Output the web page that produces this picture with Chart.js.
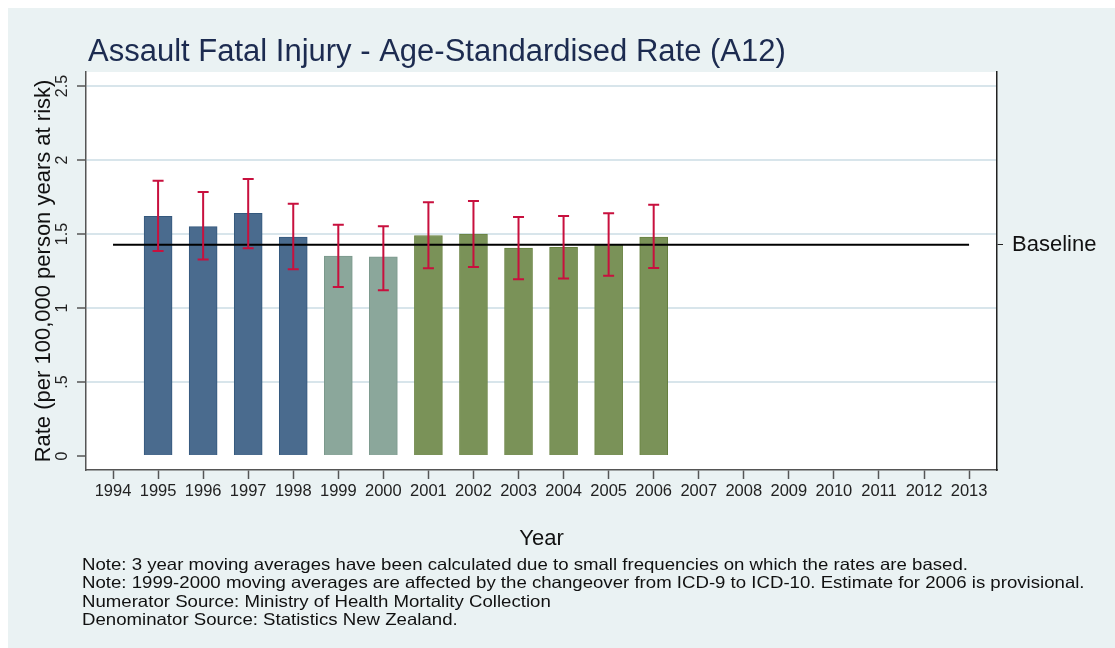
<!DOCTYPE html>
<html>
<head>
<meta charset="utf-8">
<script src="https://cdn.jsdelivr.net/npm/chart.js@4.4.1/dist/chart.umd.min.js"></script>
<style>
  html, body { margin: 0; padding: 0; background: #fff; }
  #chart { display: block; }
</style>
</head>
<body>
<canvas id="chart" width="1115" height="648"></canvas>
<script>
// values
const years = [1995, 1996, 1997, 1998, 1999, 2000, 2001, 2002, 2003, 2004, 2005, 2006];
const rates = [1.62, 1.55, 1.64, 1.48, 1.35, 1.345, 1.49, 1.50, 1.405, 1.41, 1.43, 1.48];
const lower = [1.385, 1.327, 1.403, 1.261, 1.142, 1.12, 1.268, 1.277, 1.194, 1.20, 1.218, 1.27];
const upper = [1.86, 1.784, 1.872, 1.705, 1.563, 1.552, 1.714, 1.723, 1.615, 1.622, 1.64, 1.698];
const groups = ['icd9', 'icd9', 'icd9', 'icd9', 'change', 'change', 'icd10', 'icd10', 'icd10', 'icd10', 'icd10', 'icd10'];
const baseline = 1.428;
const baselineFrom = 1994;
const baselineTo = 2013;

const xTicks = [1994, 1995, 1996, 1997, 1998, 1999, 2000, 2001, 2002, 2003, 2004, 2005, 2006, 2007, 2008, 2009, 2010, 2011, 2012, 2013];
const yTicks = [0, 0.5, 1, 1.5, 2, 2.5];
const yTickLabels = ['0', '.5', '1', '1.5', '2', '2.5'];

const title = 'Assault Fatal Injury - Age-Standardised Rate (A12)';
const yTitle = 'Rate (per 100,000 person years at risk)';
const xTitle = 'Year';
const notes = [
    'Note: 3 year moving averages have been calculated due to small frequencies on which the rates are based.',
    'Note: 1999-2000 moving averages are affected by the changeover from ICD-9 to ICD-10. Estimate for 2006 is provisional.',
    'Numerator Source: Ministry of Health Mortality Collection',
    'Denominator Source: Statistics New Zealand.'
];

const FONT = '"Liberation Sans", Arial, sans-serif';
const fill = { icd9: '#4a6b8e', change: '#8ba79b', icd10: '#7a9258' };
const edge = { icd9: '#34587d', change: '#7b998c', icd10: '#67803f' };

const barData = years.map((y, i) => ({ x: y, y: rates[i] }));

const decor = {
    id: 'decor',
    beforeDraw(chart) {
        const ctx = chart.ctx;
        const a = chart.chartArea;
        ctx.save();
        ctx.fillStyle = '#ffffff';
        ctx.fillRect(0, 0, chart.width, chart.height);
        ctx.fillStyle = '#eaf2f3';
        ctx.fillRect(8, 8, chart.width - 8, chart.height - 8);
        ctx.fillStyle = '#ffffff';
        ctx.fillRect(a.left, a.top, a.right - a.left, a.bottom - a.top);
        ctx.restore();
    },
    afterDatasetsDraw(chart) {
        const ctx = chart.ctx;
        const xs = chart.scales.x;
        const ys = chart.scales.y;
        ctx.save();
        ctx.strokeStyle = '#c8103e';
        ctx.lineWidth = 2;
        years.forEach((yr, i) => {
            const px = xs.getPixelForValue(yr);
            const top = ys.getPixelForValue(upper[i]);
            const bot = ys.getPixelForValue(lower[i]);
            ctx.beginPath();
            ctx.moveTo(px, top);
            ctx.lineTo(px, bot);
            ctx.moveTo(px - 5.5, top);
            ctx.lineTo(px + 5.5, top);
            ctx.moveTo(px - 5.5, bot);
            ctx.lineTo(px + 5.5, bot);
            ctx.stroke();
        });
        ctx.restore();
    },
    afterDraw(chart) {
        const ctx = chart.ctx;
        const a = chart.chartArea;
        const ys = chart.scales.y;
        ctx.save();

        // title
        ctx.fillStyle = '#1c2b50';
        ctx.font = '31px ' + FONT;
        ctx.textAlign = 'left';
        ctx.textBaseline = 'alphabetic';
        ctx.fillText(title, 88, 61);

        // rotated y tick labels
        ctx.fillStyle = '#222';
        ctx.font = '16px ' + FONT;
        ctx.textAlign = 'center';
        ctx.textBaseline = 'middle';
        yTicks.forEach((v, i) => {
            ctx.save();
            ctx.translate(63, ys.getPixelForValue(v));
            ctx.rotate(-Math.PI / 2);
            ctx.fillText(yTickLabels[i], 0, 0);
            ctx.restore();
        });

        // y axis title
        ctx.save();
        ctx.font = '22px ' + FONT;
        ctx.fillStyle = '#111';
        ctx.translate(44, (a.top + a.bottom) / 2);
        ctx.rotate(-Math.PI / 2);
        ctx.fillText(yTitle, 0, 0);
        ctx.restore();

        // x axis title
        ctx.font = '22px ' + FONT;
        ctx.fillStyle = '#111';
        ctx.textBaseline = 'alphabetic';
        ctx.fillText(xTitle, (a.left + a.right) / 2, 545);

        // notes, slightly condensed
        ctx.font = '16.5px ' + FONT;
        ctx.textAlign = 'left';
        const sx = 886 / ctx.measureText(notes[0]).width;
        notes.forEach((line, i) => {
            ctx.save();
            ctx.translate(82, 570 + i * 18.4);
            ctx.scale(sx, 1);
            ctx.fillText(line, 0, 0);
            ctx.restore();
        });
        ctx.restore();
    }
};

new Chart(document.getElementById('chart'), {
    type: 'bar',
    data: {
        datasets: [{
            type: 'bar',
            data: barData,
            backgroundColor: groups.map(g => fill[g]),
            borderColor: groups.map(g => edge[g]),
            borderWidth: 1,
            barThickness: 28,
            order: 2
        }, {
            type: 'line',
            data: [{ x: baselineFrom, y: baseline }, { x: baselineTo, y: baseline }],
            borderColor: '#000',
            borderWidth: 2,
            pointRadius: 0,
            order: 1
        }]
    },
    options: {
        responsive: false,
        animation: false,
        events: [],
        layout: { padding: { top: 72, left: 0, right: 0, bottom: 0 } },
        plugins: { legend: { display: false }, tooltip: { enabled: false } },
        scales: {
            x: {
                type: 'linear',
                min: 1993.4,
                max: 2013.62,
                offset: false,
                afterBuildTicks: s => { s.ticks = xTicks.map(v => ({ value: v })); },
                afterFit: s => { s.height = 178; },
                grid: { drawOnChartArea: false, drawTicks: true, tickLength: 9, tickColor: '#555', tickWidth: 1.5, offset: false },
                border: { color: '#555', width: 1.5 },
                ticks: {
                    autoSkip: false,
                    maxRotation: 0,
                    padding: 3,
                    color: '#222',
                    font: { family: FONT, size: 16.5 },
                    callback: v => String(v)
                }
            },
            y: {
                type: 'linear',
                position: 'left',
                min: -0.095,
                max: 2.595,
                afterBuildTicks: s => { s.ticks = yTicks.map(v => ({ value: v })); },
                afterFit: s => { s.width = 86; },
                grid: {
                    color: c => (c.tick && c.tick.value === 0 ? 'rgba(0,0,0,0)' : '#d8e5eb'),
                    lineWidth: 2,
                    tickColor: '#555',
                    tickLength: 9,
                    tickWidth: 1.5
                },
                border: { color: '#555', width: 1.5 },
                ticks: { display: false }
            },
            y2: {
                type: 'linear',
                position: 'right',
                min: -0.095,
                max: 2.595,
                afterBuildTicks: s => { s.ticks = [{ value: baseline }]; },
                afterFit: s => { s.width = 118; },
                grid: { drawOnChartArea: false, tickColor: '#222', tickLength: 6, tickWidth: 1 },
                border: { color: '#222', width: 1.5 },
                ticks: {
                    padding: 9,
                    color: '#111',
                    font: { family: FONT, size: 22 },
                    callback: () => 'Baseline'
                }
            }
        }
    },
    plugins: [decor]
});
</script>
</body>
</html>
